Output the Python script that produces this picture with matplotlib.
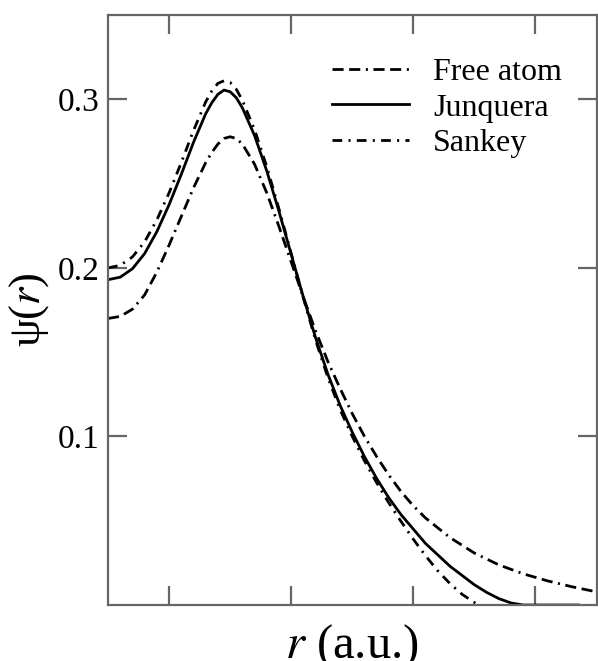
import numpy as np
import matplotlib
matplotlib.use("Agg")
import matplotlib.pyplot as plt

plt.rcParams['font.family'] = ['Liberation Serif', 'DejaVu Serif']
plt.rcParams['mathtext.fontset'] = 'stix'
plt.rcParams['lines.scale_dashes'] = False

# radial grid (a.u.) and the three orbitals
r = [0.0, 0.1, 0.2, 0.3, 0.4, 0.5, 0.6, 0.7, 0.8, 0.85, 0.9, 0.95, 1.0, 1.05,
     1.1, 1.2, 1.3, 1.4, 1.5, 1.6, 1.7, 1.8, 1.9, 2.0, 2.1, 2.2, 2.3, 2.4,
     2.5, 2.6, 2.8, 3.0, 3.2, 3.4, 3.6, 3.8, 4.0]
free_atom = [0.170, 0.1712, 0.1755, 0.184, 0.1975, 0.2135, 0.2305, 0.2475,
             0.2625, 0.2685, 0.2735, 0.2768, 0.2778, 0.2768, 0.2735, 0.2615,
             0.2445, 0.2245, 0.2035, 0.1825, 0.1625, 0.1445, 0.1285, 0.1135,
             0.1000, 0.0880, 0.0770, 0.0672, 0.0588, 0.0516, 0.0400, 0.0308,
             0.0238, 0.0185, 0.0143, 0.0108, 0.0078]

r_junq = [0.0, 0.1, 0.2, 0.3, 0.4, 0.5, 0.6, 0.7, 0.8, 0.85, 0.9, 0.95, 1.0,
          1.05, 1.1, 1.2, 1.3, 1.4, 1.5, 1.6, 1.7, 1.8, 1.9, 2.0, 2.1, 2.2,
          2.3, 2.4, 2.6, 2.8, 3.0, 3.1, 3.2, 3.3, 3.4, 3.85]
junquera = [0.193, 0.1945, 0.1995, 0.2085, 0.2215, 0.2375, 0.2555, 0.2745,
            0.2915, 0.2980, 0.3030, 0.3055, 0.3045, 0.3010, 0.2950, 0.2785,
            0.2575, 0.2335, 0.2080, 0.1825, 0.1585, 0.1370, 0.1185, 0.1025,
            0.0880, 0.0750, 0.0635, 0.0535, 0.0365, 0.0230, 0.0120, 0.0075,
            0.0038, 0.0012, 0.0, 0.0]

r_sank = [0.0, 0.1, 0.2, 0.3, 0.4, 0.5, 0.6, 0.7, 0.8, 0.85, 0.9, 0.95, 1.0,
          1.05, 1.1, 1.2, 1.3, 1.4, 1.5, 1.6, 1.7, 1.8, 1.9, 2.0, 2.1, 2.2,
          2.3, 2.4, 2.5, 2.6, 2.7, 2.8, 2.9, 3.0, 3.03]
sankey = [0.200, 0.2015, 0.2065, 0.2155, 0.2285, 0.2445, 0.2625, 0.2815,
          0.2985, 0.3050, 0.3095, 0.3110, 0.3100, 0.3060, 0.2995, 0.2820,
          0.2600, 0.2350, 0.2085, 0.1820, 0.1570, 0.1350, 0.1160, 0.1000,
          0.0855, 0.0725, 0.0605, 0.0495, 0.0390, 0.0292, 0.0203, 0.0127,
          0.0063, 0.0015, 0.0]

fig = plt.figure(figsize=(5.98, 6.61), dpi=100)
ax = fig.add_axes([0.1806, 0.0847, 0.817, 0.8925])

lw = 2.0
ax.plot(r, free_atom, color='black', lw=lw, dashes=[8, 4, 8, 4, 1.5, 4],
        label='Free atom')
ax.plot(r_junq, junquera, color='black', lw=lw, label='Junquera')
ax.plot(r_sank, sankey, color='black', lw=lw, dashes=[7, 4.5, 1.5, 4.5],
        label='Sankey')

ax.set_xlim(0, 4)
ax.set_ylim(0, 0.35)
ax.set_xticks([0.5, 1.5, 2.5, 3.5])
ax.set_xticklabels([])
ax.set_yticks([0.1, 0.2, 0.3])
ax.set_yticklabels(['0.1', '0.2', '0.3'])

for s in ax.spines.values():
    s.set_color('#666666')
    s.set_linewidth(1.6)
ax.tick_params(direction='in', length=14, width=1.6, color='#666666',
               top=True, right=True, labelsize=24, pad=6)

ax.set_xlabel('$r$ (a.u.)', fontsize=35)
ax.xaxis.set_label_coords(0.5, -0.090)
ax.xaxis.label.set_va('baseline')
ax.set_ylabel('ψ($r$)', fontsize=32)
ax.yaxis.set_label_coords(-0.161, 0.5)
ax.yaxis.label.set_va('center')

ax.legend(loc='upper left', bbox_to_anchor=(0.459, 0.928), frameon=False,
          fontsize=23, handlelength=2.4, handletextpad=0.75,
          labelspacing=0.2, borderpad=0, borderaxespad=0)

fig.savefig('out.png', dpi=100)
